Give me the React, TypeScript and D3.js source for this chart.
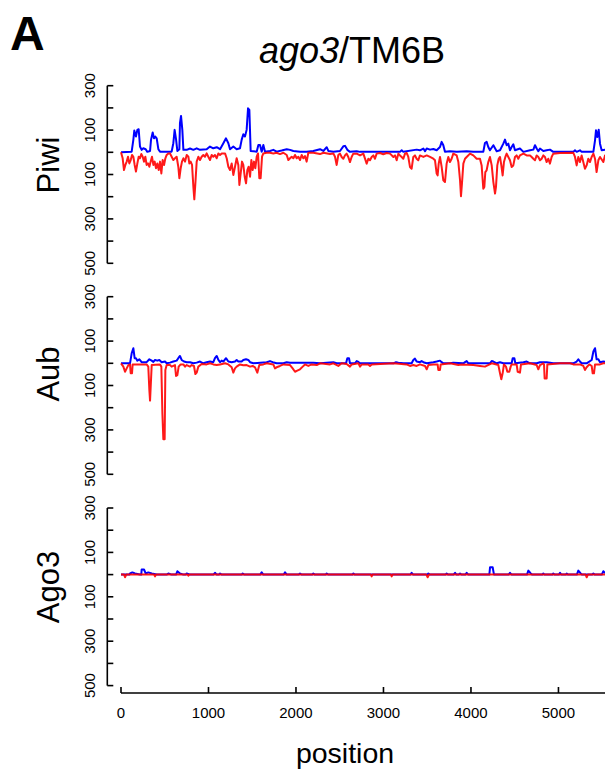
import React from 'react';
import * as d3 from 'd3';

type Pt = [number, number];

const xTicks = [0, 1000, 2000, 3000, 4000, 5000];
const yTickValues = [300, 200, 100, 0, -100, -200, -300, -400, -500];
const yTickLabels = [300, 100, -100, -300, -500];
const panelNames = ['Piwi', 'Aub', 'Ago3'];
const title = ['ago3', '/TM6B'];

// sense reads (plotted upward, blue)
const piwiSense: Pt[] = [
  [0,0],[122,3],[141,56],[152,98],[171,71],[187,101],[202,104],[217,26],[236,11],[255,18],[282,14],[301,2],[332,6],[343,56],[362,89],[377,63],[392,71],[408,63],[427,14],[446,3],[579,3],[598,41],[613,101],[629,59],[644,6],[667,14],[674,131],[686,164],[701,101],[713,11],[751,11],[789,17],[827,11],[865,18],[903,11],[979,14],[1017,26],[1055,18],[1094,23],[1132,14],[1170,41],[1200,63],[1227,41],[1246,14],[1284,26],[1322,14],[1360,18],[1379,56],[1398,81],[1417,71],[1436,101],[1452,198],[1467,191],[1482,6],[1551,3],[1570,33],[1589,33],[1608,3],[1627,33],[1646,3],[1703,6],[1741,11],[1779,3],[1836,8],[1894,14],[1932,11],[1970,6],[2046,3],[2122,3],[2198,6],[2275,14],[2313,6],[2351,23],[2370,6],[2427,3],[2503,6],[2541,27],[2560,29],[2587,11],[2617,2],[2694,5],[2732,2],[2884,2],[3189,2],[3208,9],[3227,2],[3379,12],[3417,9],[3456,17],[3475,5],[3494,17],[3532,12],[3570,15],[3608,9],[3646,24],[3665,47],[3684,32],[3703,2],[3760,5],[3837,3],[3951,5],[4027,2],[4141,2],[4160,42],[4179,47],[4198,24],[4217,9],[4256,32],[4294,5],[4332,9],[4370,39],[4389,57],[4408,32],[4427,39],[4446,9],[4465,24],[4484,36],[4503,9],[4560,17],[4599,2],[4675,9],[4713,12],[4732,32],[4751,17],[4770,5],[4789,17],[4827,6],[4865,9],[4903,12],[4941,2],[5017,2],[5170,2],[5189,9],[5208,2],[5246,9],[5265,2],[5399,2],[5418,54],[5429,99],[5444,69],[5460,102],[5475,39],[5494,9],[5532,12],[5600,10]
];
// antisense reads (magnitudes, plotted downward, red)
const piwiAnti: Pt[] = [
  [0,0],[19,27],[34,80],[50,57],[65,42],[80,20],[95,50],[111,35],[126,12],[141,20],[156,57],[171,87],[187,50],[202,20],[217,27],[232,8],[248,20],[263,42],[278,20],[293,57],[309,50],[324,65],[339,42],[354,20],[370,57],[385,42],[400,72],[415,50],[431,80],[446,42],[461,95],[476,35],[492,57],[507,27],[522,12],[541,5],[560,5],[579,20],[598,35],[617,27],[636,20],[655,65],[667,117],[682,72],[697,42],[713,27],[732,42],[751,12],[770,20],[781,50],[796,42],[812,57],[827,155],[838,212],[850,140],[865,42],[884,20],[903,35],[922,20],[941,12],[960,20],[979,5],[998,20],[1017,35],[1036,12],[1055,20],[1074,12],[1094,27],[1113,5],[1132,12],[1151,5],[1189,5],[1208,27],[1227,65],[1246,80],[1265,50],[1284,102],[1303,65],[1322,27],[1341,57],[1353,147],[1368,95],[1383,42],[1398,57],[1414,110],[1429,140],[1444,80],[1459,65],[1475,110],[1490,35],[1505,80],[1520,42],[1535,72],[1551,20],[1566,5],[1581,117],[1596,117],[1612,20],[1627,5],[1665,2],[1703,2],[1741,5],[1779,2],[1817,8],[1856,2],[1894,12],[1913,35],[1932,27],[1951,20],[1970,27],[1989,12],[2008,27],[2027,20],[2046,35],[2065,12],[2084,27],[2103,17],[2122,42],[2141,2],[2198,2],[2275,8],[2313,2],[2389,8],[2427,5],[2446,20],[2465,57],[2484,12],[2503,6],[2522,21],[2541,29],[2560,14],[2579,6],[2598,21],[2617,44],[2636,21],[2655,6],[2694,6],[2732,14],[2770,6],[2808,51],[2827,29],[2846,36],[2865,21],[2884,14],[2903,29],[2922,6],[2960,3],[2998,9],[3036,3],[3075,6],[3113,21],[3132,14],[3151,36],[3170,6],[3189,14],[3208,21],[3227,29],[3246,6],[3265,3],[3284,21],[3303,66],[3322,74],[3341,21],[3360,14],[3379,29],[3398,36],[3417,14],[3456,21],[3494,14],[3532,21],[3570,29],[3589,36],[3608,96],[3619,104],[3631,51],[3646,21],[3665,66],[3684,126],[3703,134],[3722,51],[3741,21],[3760,44],[3779,29],[3798,6],[3837,14],[3856,44],[3875,126],[3886,198],[3897,141],[3913,51],[3932,29],[3951,21],[3989,6],[4027,14],[4065,29],[4103,29],[4122,59],[4141,164],[4153,156],[4164,89],[4179,81],[4198,44],[4217,21],[4237,59],[4256,134],[4275,186],[4286,156],[4301,59],[4317,29],[4332,21],[4347,59],[4362,104],[4377,44],[4393,21],[4408,6],[4427,21],[4446,36],[4465,66],[4484,59],[4503,21],[4522,14],[4541,29],[4560,14],[4599,6],[4637,14],[4675,14],[4694,21],[4713,29],[4732,36],[4751,14],[4770,21],[4789,36],[4808,29],[4827,14],[4846,21],[4865,44],[4884,29],[4903,51],[4922,21],[4941,6],[5017,3],[5170,2],[5189,21],[5208,59],[5227,21],[5246,44],[5265,14],[5284,44],[5303,74],[5322,59],[5341,29],[5360,44],[5379,21],[5399,6],[5418,29],[5436,89],[5456,36],[5475,21],[5513,44],[5532,14],[5600,10]
];
const aubSense: Pt[] = [
  [0,0],[103,0],[122,45],[141,68],[156,23],[171,23],[187,12],[210,18],[236,5],[293,5],[324,18],[351,12],[370,6],[389,15],[415,12],[438,15],[465,5],[503,8],[522,0],[560,3],[598,8],[636,12],[655,23],[674,33],[693,15],[720,8],[751,5],[789,5],[827,0],[865,3],[903,8],[941,0],[979,5],[1017,8],[1055,5],[1074,23],[1094,33],[1113,15],[1132,5],[1151,12],[1170,8],[1200,23],[1227,8],[1265,5],[1303,8],[1322,15],[1341,8],[1379,8],[1398,15],[1429,18],[1455,15],[1475,5],[1513,0],[1665,5],[1703,10],[1734,5],[1779,0],[1856,0],[1894,5],[1932,3],[2046,3],[2198,3],[2275,0],[2427,5],[2465,0],[2572,0],[2587,23],[2606,23],[2617,0],[2674,0],[2694,10],[2713,6],[2732,0],[3113,0],[3143,5],[3170,3],[3227,0],[3322,0],[3341,15],[3360,21],[3379,8],[3417,5],[3436,10],[3456,5],[3494,0],[3570,5],[3608,8],[3646,12],[3665,5],[3684,0],[3760,0],[3798,3],[3913,0],[3932,5],[3951,10],[3970,0],[4217,0],[4237,10],[4256,8],[4294,0],[4332,5],[4370,0],[4465,0],[4477,23],[4496,23],[4507,0],[4599,5],[4637,8],[4675,0],[4751,0],[4789,5],[4865,5],[4941,0],[5170,0],[5208,8],[5227,18],[5246,8],[5265,0],[5322,0],[5380,15],[5399,53],[5418,68],[5436,18],[5456,18],[5475,5],[5513,8],[5600,5]
];
const aubAnti: Pt[] = [
  [0,0],[27,15],[46,38],[65,23],[84,8],[103,5],[111,45],[126,45],[133,5],[293,5],[312,15],[324,120],[332,168],[343,75],[351,8],[446,5],[461,15],[473,225],[484,342],[499,342],[507,30],[522,8],[560,8],[579,15],[617,8],[629,57],[644,53],[659,15],[682,5],[713,5],[732,15],[751,8],[789,15],[808,8],[834,12],[850,48],[865,42],[884,15],[922,3],[979,5],[1017,0],[1055,5],[1094,8],[1132,5],[1189,0],[1227,5],[1265,18],[1284,42],[1303,23],[1322,15],[1360,5],[1398,9],[1436,8],[1475,15],[1505,12],[1532,18],[1558,42],[1581,8],[1627,5],[1665,0],[1741,5],[1760,23],[1779,18],[1817,12],[1856,5],[1932,8],[1962,23],[1989,38],[2015,33],[2046,27],[2077,15],[2103,5],[2141,12],[2179,5],[2237,8],[2275,0],[2389,5],[2427,0],[2484,12],[2522,0],[2579,3],[2617,15],[2636,5],[2713,0],[2732,15],[2751,5],[2827,5],[2846,12],[2865,5],[3113,0],[3265,5],[3303,12],[3341,8],[3379,12],[3417,5],[3475,12],[3494,27],[3513,8],[3570,5],[3619,5],[3627,30],[3646,30],[3654,5],[3760,0],[3856,8],[3894,5],[4027,8],[4103,12],[4160,15],[4237,0],[4313,8],[4332,45],[4347,72],[4362,45],[4377,5],[4400,15],[4416,38],[4438,38],[4454,15],[4465,5],[4522,5],[4534,38],[4560,42],[4572,5],[4675,0],[4751,8],[4770,27],[4789,8],[4827,0],[4835,5],[4842,68],[4865,68],[4873,5],[5017,0],[5132,0],[5170,5],[5246,5],[5284,12],[5303,30],[5322,18],[5353,5],[5380,12],[5391,45],[5406,45],[5418,5],[5475,5],[5513,0],[5600,0]
];
const ago3Sense: Pt[] = [
  [0,0],[95,0],[103,5],[130,10],[160,5],[217,0],[232,0],[236,23],[263,23],[282,5],[312,10],[351,5],[408,0],[522,0],[541,5],[579,0],[629,0],[644,15],[674,5],[713,0],[740,0],[751,5],[789,0],[1055,0],[1074,8],[1094,0],[1120,0],[1132,5],[1151,0],[1380,0],[1391,5],[1410,0],[1590,0],[1608,10],[1627,0],[1860,0],[1875,10],[1894,0],[2030,0],[2046,5],[2065,0],[2185,0],[2198,5],[2215,0],[2340,0],[2351,5],[2370,0],[2645,0],[2656,5],[2670,0],[3305,0],[3322,8],[3340,0],[3500,0],[3513,5],[3530,0],[3710,0],[3722,5],[3740,0],[3800,0],[3818,8],[3835,0],[3860,0],[3875,5],[3890,0],[3935,0],[3951,8],[3970,0],[4210,0],[4218,33],[4248,33],[4263,0],[4430,0],[4446,8],[4465,0],[4640,0],[4656,18],[4683,5],[4700,0],[4815,0],[4827,5],[4840,0],[4930,0],[4941,5],[4955,0],[5005,0],[5018,8],[5030,0],[5085,0],[5094,5],[5110,0],[5210,0],[5227,18],[5254,5],[5270,0],[5385,0],[5399,5],[5415,0],[5495,0],[5513,15],[5532,8],[5600,8]
];
const ago3Anti: Pt[] = [
  [0,0],[35,0],[46,12],[60,0],[378,0],[389,8],[400,0],[760,0],[770,5],[780,0],[2855,0],[2865,8],[2875,0],[3085,0],[3094,8],[3105,0],[3490,0],[3505,12],[3520,0],[5310,0],[5323,12],[5336,0],[5600,0]
];

const senseSeries = [piwiSense, aubSense, ago3Sense];
const antiSeries = [piwiAnti, aubAnti, ago3Anti];

const FONT = 'Liberation Sans, Arial, Helvetica, sans-serif';

export default function App() {
  const W = 605, H = 775;
  const x = d3.scaleLinear().domain([0, 5532]).range([121, 605]);
  const panelTops = [85.7, 296.7, 508];
  const panelH = 177.6;
  const axisX = 107.3;
  const tickLen = 6;
  const labelCenters = [165, 374, 587];
  const xAxisY = 693;

  return (
    <svg width={W} height={H} style={{ position: 'absolute', left: 0, top: 0, background: '#fff' }}
      fontFamily={FONT}>
      <rect x={0} y={0} width={W} height={H} fill="#fff" />
      <text x={10} y={50} fontSize={48} fontWeight="bold">A</text>
      <text x={352} y={63} fontSize={36} textAnchor="middle">
        <tspan fontStyle="italic">{title[0]}</tspan>
        <tspan>{title[1]}</tspan>
      </text>
      {panelNames.map((name, i) => {
        const y = d3.scaleLinear().domain([300, -500]).range([panelTops[i], panelTops[i] + panelH]);
        const lineS = d3.line<Pt>().x(d => x(d[0])).y(d => y(d[1]));
        const lineA = d3.line<Pt>().x(d => x(d[0])).y(d => y(-d[1]));
        return (
          <g key={name}>
            <line x1={axisX} x2={axisX} y1={y(300)} y2={y(-500)} stroke="#000" strokeWidth={1.6} />
            {yTickValues.map(v => (
              <line key={v} x1={axisX} x2={axisX + tickLen} y1={y(v)} y2={y(v)} stroke="#000" strokeWidth={1.6} />
            ))}
            {yTickLabels.map(v => (
              <text key={v} transform={`translate(95,${y(v)}) rotate(-90)`} textAnchor="middle" fontSize={15}>
                {Math.abs(v)}
              </text>
            ))}
            <text transform={`translate(59,${labelCenters[i]}) rotate(-90)`} textAnchor="middle" fontSize={31}>
              {name}
            </text>
            <path d={lineS(senseSeries[i]) || ''} fill="none" stroke="#0000ff" strokeWidth={2} strokeLinejoin="round" />
            <path d={lineA(antiSeries[i]) || ''} fill="none" stroke="#ff0000" strokeWidth={2} strokeLinejoin="round" strokeOpacity={0.9} />
          </g>
        );
      })}
      <line x1={x(0)} x2={W} y1={xAxisY} y2={xAxisY} stroke="#000" strokeWidth={1.6} />
      {xTicks.map(t => (
        <g key={t}>
          <line x1={x(t)} x2={x(t)} y1={xAxisY} y2={xAxisY - tickLen} stroke="#000" strokeWidth={1.6} />
          <text x={x(t)} y={718} fontSize={15} textAnchor="middle">{t}</text>
        </g>
      ))}
      <text x={345} y={763} fontSize={28.5} textAnchor="middle">position</text>
    </svg>
  );
}
